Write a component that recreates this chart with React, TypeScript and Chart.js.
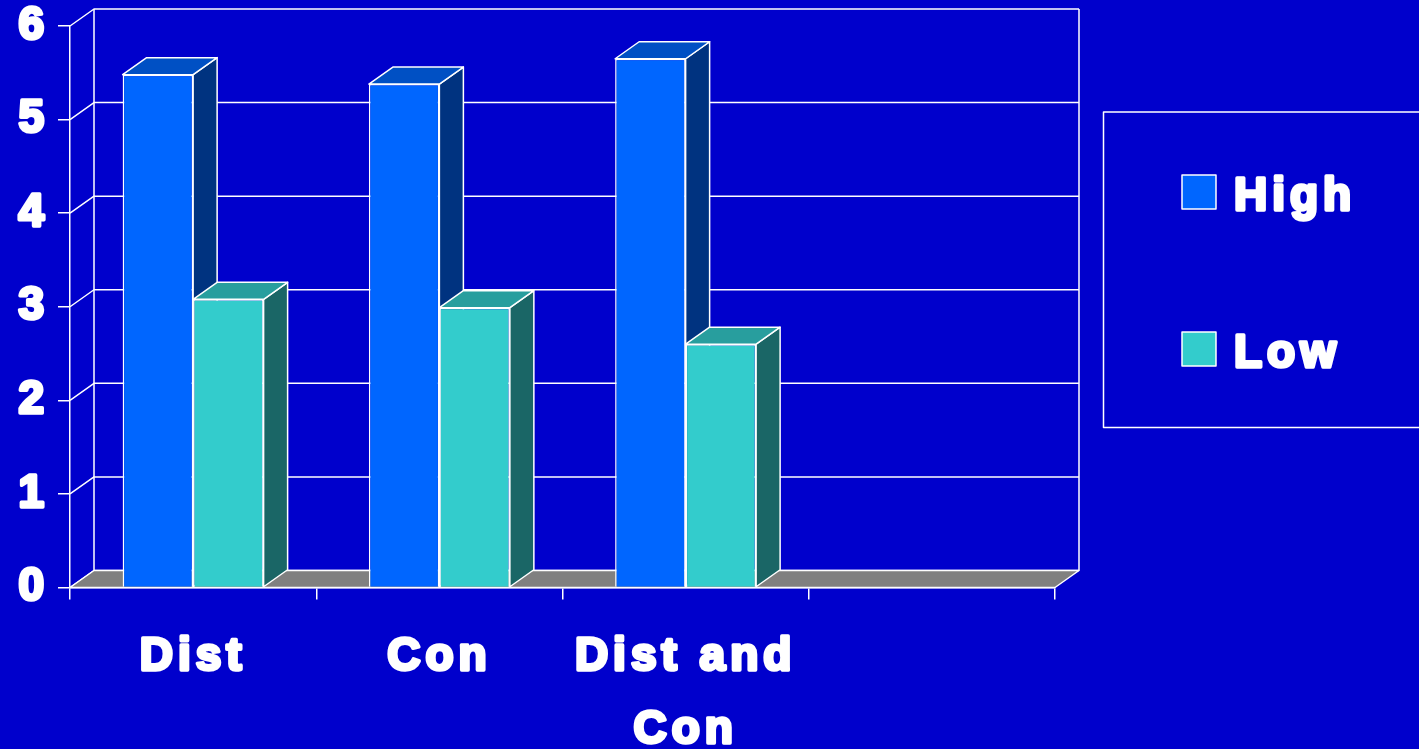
import { useEffect, useRef } from "react";
import { Chart, registerables } from "chart.js";

Chart.register(...registerables);

// Chart data
const CATEGORIES: (string | string[])[] = ["Dist", "Con", ["Dist and", "Con"], ""];
const SERIES_NAMES = ["High", "Low"];
const HIGH_VALUES = [5.48, 5.38, 5.65];
const LOW_VALUES = [3.08, 2.99, 2.6];
const Y_MIN = 0;
const Y_MAX = 6;
const Y_STEP = 1;

// Canvas and layout
const W = 1419;
const H = 749;
const PLOT_LEFT = 70;
const PLOT_RIGHT = 1055;
const PLOT_TOP = 26;
const PLOT_BOTTOM = 587.5;
const DEPTH_X = 24;
const DEPTH_Y = 17;

// Colours
const BG = "#0000CC";
const LINE = "#FFFFFF";
const FLOOR = "#808080";
const HIGH_FRONT = "#0066FF";
const HIGH_TOP = "#0050C4";
const HIGH_SIDE = "#003380";
const LOW_FRONT = "#33CCCC";
const LOW_TOP = "#289E9E";
const LOW_SIDE = "#1A6666";

// Heavy lettering: bold face with an outline stroke and wide tracking
const FONT_FAMILY = '"Liberation Sans", Arial, sans-serif';
const FONT_SIZE = 46;
const TEXT_STROKE = 3.5;
const LETTER_SPACING = "5px";

const SHADES: Record<string, { top: string; side: string }> = {
  [HIGH_FRONT]: { top: HIGH_TOP, side: HIGH_SIDE },
  [LOW_FRONT]: { top: LOW_TOP, side: LOW_SIDE },
};

function poly(ctx: CanvasRenderingContext2D, pts: number[][], fill?: string) {
  ctx.beginPath();
  ctx.moveTo(pts[0][0], pts[0][1]);
  for (let i = 1; i < pts.length; i++) ctx.lineTo(pts[i][0], pts[i][1]);
  ctx.closePath();
  if (fill) {
    ctx.fillStyle = fill;
    ctx.fill();
  }
  ctx.stroke();
}

// Draws the walls, floor and the depth faces of the bars
const threeDPlugin = {
  id: "threeD",
  beforeDraw(chart: any) {
    const ctx: CanvasRenderingContext2D = chart.ctx;
    ctx.save();
    ctx.fillStyle = BG;
    ctx.fillRect(0, 0, chart.width, chart.height);
    ctx.restore();
    (ctx as any).letterSpacing = LETTER_SPACING;
    ctx.lineJoin = "round";
  },
  beforeDatasetsDraw(chart: any) {
    const ctx: CanvasRenderingContext2D = chart.ctx;
    const a = chart.chartArea;
    const y = chart.scales.y;
    ctx.save();
    ctx.strokeStyle = LINE;
    ctx.lineWidth = 1.5;
    ctx.lineJoin = "round";

    // Back wall gridlines and the slanted lines on the side wall
    y.ticks.forEach((t: any) => {
      const py = y.getPixelForValue(t.value);
      ctx.beginPath();
      ctx.moveTo(a.left, py);
      ctx.lineTo(a.left + DEPTH_X, py - DEPTH_Y);
      ctx.lineTo(a.right + DEPTH_X, py - DEPTH_Y);
      ctx.stroke();
    });
    const yTop = y.getPixelForValue(Y_MAX) - DEPTH_Y;
    const yBase = y.getPixelForValue(Y_MIN);
    ctx.beginPath();
    ctx.moveTo(a.left + DEPTH_X, yTop);
    ctx.lineTo(a.left + DEPTH_X, yBase - DEPTH_Y);
    ctx.moveTo(a.right + DEPTH_X, yTop);
    ctx.lineTo(a.right + DEPTH_X, yBase - DEPTH_Y);
    ctx.stroke();

    // Floor
    poly(
      ctx,
      [
        [a.left, yBase],
        [a.right, yBase],
        [a.right + DEPTH_X, yBase - DEPTH_Y],
        [a.left + DEPTH_X, yBase - DEPTH_Y],
      ],
      FLOOR
    );

    // Side and top faces, painted left to right
    const faces: { left: number; right: number; top: number; base: number; color: string }[] = [];
    chart.data.datasets.forEach((ds: any, di: number) => {
      const meta = chart.getDatasetMeta(di);
      meta.data.forEach((bar: any) => {
        const p = bar.getProps(["x", "y", "base", "width"], true);
        if (p.y == null || isNaN(p.y)) return;
        faces.push({
          left: p.x - p.width / 2,
          right: p.x + p.width / 2,
          top: p.y,
          base: p.base,
          color: ds.backgroundColor,
        });
      });
    });
    faces.sort((m, n) => m.left - n.left);
    faces.forEach((f) => {
      const sh = SHADES[f.color];
      poly(
        ctx,
        [
          [f.right, f.top],
          [f.right + DEPTH_X, f.top - DEPTH_Y],
          [f.right + DEPTH_X, f.base - DEPTH_Y],
          [f.right, f.base],
        ],
        sh.side
      );
      poly(
        ctx,
        [
          [f.left, f.top],
          [f.right, f.top],
          [f.right + DEPTH_X, f.top - DEPTH_Y],
          [f.left + DEPTH_X, f.top - DEPTH_Y],
        ],
        sh.top
      );
    });
    ctx.restore();
  },
  afterDraw(chart: any) {
    // Legend box on the right
    const ctx: CanvasRenderingContext2D = chart.ctx;
    ctx.save();
    ctx.strokeStyle = LINE;
    ctx.lineWidth = 1.5;
    ctx.strokeRect(1103.5, 112, 400, 315.5);
    chart.data.datasets.forEach((ds: any, i: number) => {
      const top = 175 + i * 157;
      ctx.fillStyle = ds.backgroundColor;
      ctx.fillRect(1182, top, 34, 34);
      ctx.strokeRect(1182, top, 34, 34);
    });
    ctx.font = `bold ${FONT_SIZE}px ${FONT_FAMILY}`;
    (ctx as any).letterSpacing = LETTER_SPACING;
    ctx.textAlign = "left";
    ctx.textBaseline = "alphabetic";
    ctx.lineWidth = TEXT_STROKE;
    ctx.lineJoin = "round";
    chart.data.datasets.forEach((ds: any, i: number) => {
      const top = 175 + i * 157;
      ctx.fillStyle = LINE;
      ctx.strokeText(ds.label, 1234, top + 35);
      ctx.fillText(ds.label, 1234, top + 35);
    });
    ctx.restore();
  },
};

export default function App() {
  const ref = useRef<HTMLCanvasElement | null>(null);

  useEffect(() => {
    if (!ref.current) return;
    const tickFont = { family: FONT_FAMILY, size: FONT_SIZE, weight: "bold" as const };
    const chart = new Chart(ref.current, {
      type: "bar",
      data: {
        labels: CATEGORIES,
        datasets: [
          {
            label: SERIES_NAMES[0],
            data: HIGH_VALUES,
            backgroundColor: HIGH_FRONT,
            borderColor: LINE,
            borderWidth: 1.5,
          },
          {
            label: SERIES_NAMES[1],
            data: LOW_VALUES,
            backgroundColor: LOW_FRONT,
            borderColor: LINE,
            borderWidth: 1.5,
          },
        ],
      },
      options: {
        animation: false,
        responsive: false,
        events: [],
        categoryPercentage: 0.5725,
        barPercentage: 1,
        layout: {
          autoPadding: false,
          padding: { left: 0, top: PLOT_TOP, right: W - PLOT_RIGHT, bottom: 0 },
        },
        plugins: {
          legend: { display: false },
          tooltip: { enabled: false },
          title: { display: false },
        },
        scales: {
          x: {
            type: "category",
            grid: {
              display: true,
              drawOnChartArea: false,
              drawTicks: true,
              tickLength: 12,
              color: LINE,
              lineWidth: 1.5,
              offset: true,
            },
            border: { display: true, color: LINE, width: 1.5 },
            ticks: {
              color: LINE,
              font: { ...tickFont, lineHeight: 1.576 },
              textStrokeColor: LINE,
              textStrokeWidth: TEXT_STROKE,
              padding: 22,
              maxRotation: 0,
              minRotation: 0,
              autoSkip: false,
            },
            afterFit: (s: any) => {
              s.height = H - PLOT_BOTTOM;
            },
          },
          y: {
            min: Y_MIN,
            max: Y_MAX,
            grid: {
              display: true,
              drawOnChartArea: false,
              drawTicks: true,
              tickLength: 12,
              color: LINE,
              lineWidth: 1.5,
            },
            border: { display: true, color: LINE, width: 1.5 },
            ticks: {
              stepSize: Y_STEP,
              color: LINE,
              font: { ...tickFont, lineHeight: 0.3 },
              textStrokeColor: LINE,
              textStrokeWidth: TEXT_STROKE,
              padding: 9,
            },
            afterFit: (s: any) => {
              s.width = PLOT_LEFT;
            },
          },
        },
      },
      plugins: [threeDPlugin],
    });
    return () => chart.destroy();
  }, []);

  return (
    <div
      style={{
        position: "fixed",
        left: 0,
        top: 0,
        width: W,
        height: H,
        background: BG,
        overflow: "hidden",
      }}
    >
      <canvas ref={ref} width={W} height={H} style={{ display: "block" }} />
    </div>
  );
}
